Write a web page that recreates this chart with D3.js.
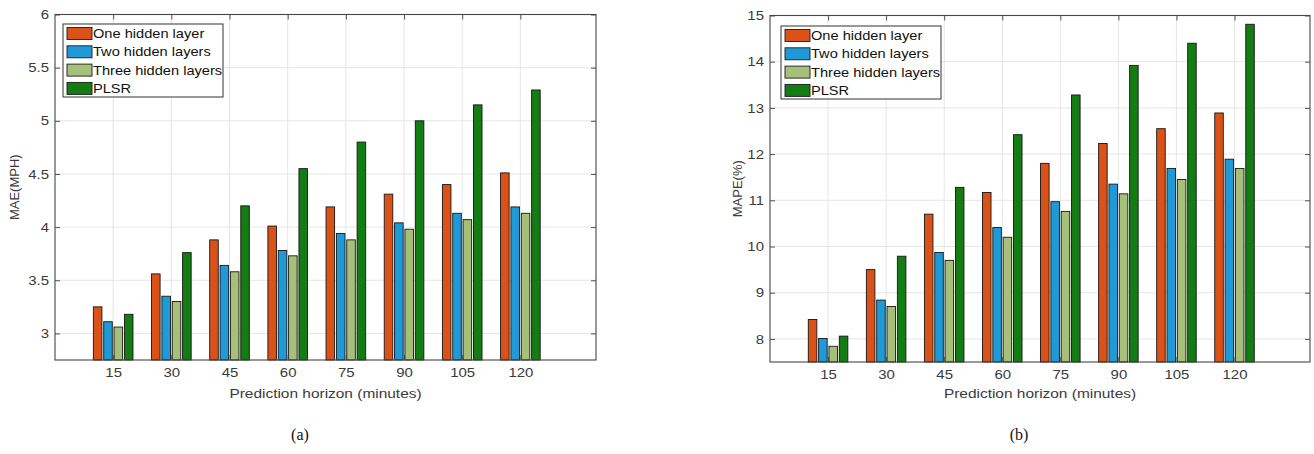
<!DOCTYPE html>
<html><head><meta charset="utf-8">
<script src="https://cdn.jsdelivr.net/npm/d3@7"></script>
<style>body{margin:0;background:#fff}svg{display:block}</style>
</head><body><svg id="c" width="1314" height="454"></svg>
<script>
const categories = ["15","30","45","60","75","90","105","120"];
const seriesNames = ["One hidden layer","Two hidden layers","Three hidden layers","PLSR"];
const seriesColors = ["#DB5219","#1F9AD6","#A6C07A","#137C13"];
const maeOne   = [3.25,3.56,3.88,4.01,4.19,4.31,4.40,4.51];
const maeTwo   = [3.11,3.35,3.64,3.78,3.94,4.04,4.13,4.19];
const maeThree = [3.06,3.30,3.58,3.73,3.88,3.98,4.07,4.13];
const maePLSR  = [3.18,3.76,4.20,4.55,4.80,5.00,5.15,5.29];
const mapeOne   = [8.42,9.50,10.70,11.17,11.80,12.23,12.55,12.89];
const mapeTwo   = [8.01,8.84,9.87,10.41,10.97,11.35,11.69,11.89];
const mapeThree = [7.84,8.70,9.70,10.20,10.76,11.14,11.45,11.69];
const mapePLSR  = [8.06,9.79,11.28,12.42,13.28,13.92,14.40,14.81];
const maeTicks = [3,3.5,4,4.5,5,5.5,6];
const mapeTicks = [8,9,10,11,12,13,14,15];
const xTitle = "Prediction horizon (minutes)";

const SX = 1.17; // horizontal text stretch seen in the reference
const FONT = "'Liberation Sans', Arial, Helvetica, sans-serif";
const svg = d3.select("#c");

const panels = [
  {vals:[maeOne,maeTwo,maeThree,maePLSR], ticks:maeTicks, domain:[2.75,6], ylabel:"MAE(MPH)", caption:"(a)",
   box:{l:55,r:596,t:14.5,b:360}, legend:{x:63,y:24}, ylabelX:19, captionX:300},
  {vals:[mapeOne,mapeTwo,mapeThree,mapePLSR], ticks:mapeTicks, domain:[7.5,15], ylabel:"MAPE(%)", caption:"(b)",
   box:{l:770,r:1310,t:15.5,b:362}, legend:{x:781,y:26}, ylabelX:741.5, captionX:1019}
];

function stretchText(sel, xpos){
  sel.each(function(){
    const t = d3.select(this);
    const x = xpos !== undefined ? xpos : +t.attr("x") || 0;
    t.attr("x", x / SX).attr("transform", `scale(${SX},1)`);
  });
}

panels.forEach(p => {
  const B = p.box;
  const x = d3.scaleLinear().domain([0, 9.3]).range([B.l, B.r]);
  const y = d3.scaleLinear().domain(p.domain).range([B.b, B.t]);
  const catPos = categories.map((c,i)=>i+1);
  const g = svg.append("g");

  // grid
  g.append("g").selectAll("line").data(p.ticks).join("line")
    .attr("x1",B.l).attr("x2",B.r).attr("y1",d=>y(d)).attr("y2",d=>y(d))
    .attr("stroke","#e3e3e3").attr("stroke-width",0.9);
  g.append("g").selectAll("line").data(catPos).join("line")
    .attr("x1",d=>x(d)).attr("x2",d=>x(d)).attr("y1",B.t).attr("y2",B.b)
    .attr("stroke","#e3e3e3").attr("stroke-width",0.9);

  // bars
  const pitch = 0.178, bw = 0.147;
  p.vals.forEach((arr, k) => {
    g.append("g").selectAll("rect").data(arr).join("rect")
      .attr("x", (d,i)=> x(i+1 + (k-1.5)*pitch - bw/2))
      .attr("width", x(bw) - x(0))
      .attr("y", d => y(d))
      .attr("height", d => y(p.domain[0]) - y(d))
      .attr("fill", seriesColors[k])
      .attr("stroke", "#161616").attr("stroke-width", 0.9);
  });

  // axes
  const axL = d3.axisLeft(y).tickValues(p.ticks).tickFormat(d=>String(d)).tickSizeInner(-5).tickSizeOuter(0).tickPadding(6);
  const gl = g.append("g").attr("transform",`translate(${B.l},0)`).call(axL);
  const axR = d3.axisRight(y).tickValues(p.ticks).tickFormat("").tickSizeInner(-5).tickSizeOuter(0);
  const gr = g.append("g").attr("transform",`translate(${B.r},0)`).call(axR);
  const axB = d3.axisBottom(x).tickValues(catPos).tickFormat((d,i)=>categories[i]).tickSizeInner(-5).tickSizeOuter(0).tickPadding(8);
  const gb = g.append("g").attr("transform",`translate(0,${B.b})`).call(axB);
  const axT = d3.axisTop(x).tickValues(catPos).tickFormat("").tickSizeInner(-5).tickSizeOuter(0);
  const gt = g.append("g").attr("transform",`translate(0,${B.t})`).call(axT);
  [gl,gr,gb,gt].forEach(a=>{
    a.select(".domain").remove();
    a.selectAll(".tick line").attr("stroke","#404040").attr("stroke-width",0.9);
    a.selectAll("text").attr("fill","#3a3a3a").style("font-family",FONT).style("font-size","12.8px");
  });
  stretchText(gl.selectAll(".tick text"), -6);
  stretchText(gb.selectAll(".tick text"), 0);

  // box
  g.append("rect").attr("x",B.l).attr("y",B.t).attr("width",B.r-B.l).attr("height",B.b-B.t)
    .attr("fill","none").attr("stroke","#454545").attr("stroke-width",1.1);

  // axis titles
  const xt = g.append("text").attr("y",398).attr("text-anchor","middle")
    .attr("fill","#3a3a3a").style("font-family",FONT).style("font-size","13.2px").text(xTitle);
  stretchText(xt, (B.l+B.r)/2);
  g.append("text").attr("transform",`translate(${p.ylabelX},${(B.t+B.b)/2}) rotate(-90)`)
    .attr("text-anchor","middle").attr("fill","#3a3a3a").style("font-family",FONT).style("font-size","13px")
    .text(p.ylabel);

  // caption
  g.append("text").attr("x",p.captionX).attr("y",440).attr("text-anchor","middle")
    .attr("fill","#111").style("font-family","'Liberation Serif','Times New Roman',serif").style("font-size","16px")
    .text(p.caption);

  // legend
  const L = p.legend;
  g.append("rect").attr("x",L.x).attr("y",L.y).attr("width",160).attr("height",73)
    .attr("fill","#fff").attr("stroke","#333").attr("stroke-width",1);
  seriesNames.forEach((name,k)=>{
    const cy = L.y + 9.5 + k*18.3;
    g.append("rect").attr("x",L.x+4).attr("y",cy-6).attr("width",25).attr("height",12)
      .attr("fill",seriesColors[k]).attr("stroke","#1c1c1c").attr("stroke-width",0.9);
    const t = g.append("text").attr("y",cy+4.5).attr("fill","#111")
      .style("font-family",FONT).style("font-size","12.5px").text(name);
    stretchText(t, L.x+30);
  });
});
</script></body></html>
